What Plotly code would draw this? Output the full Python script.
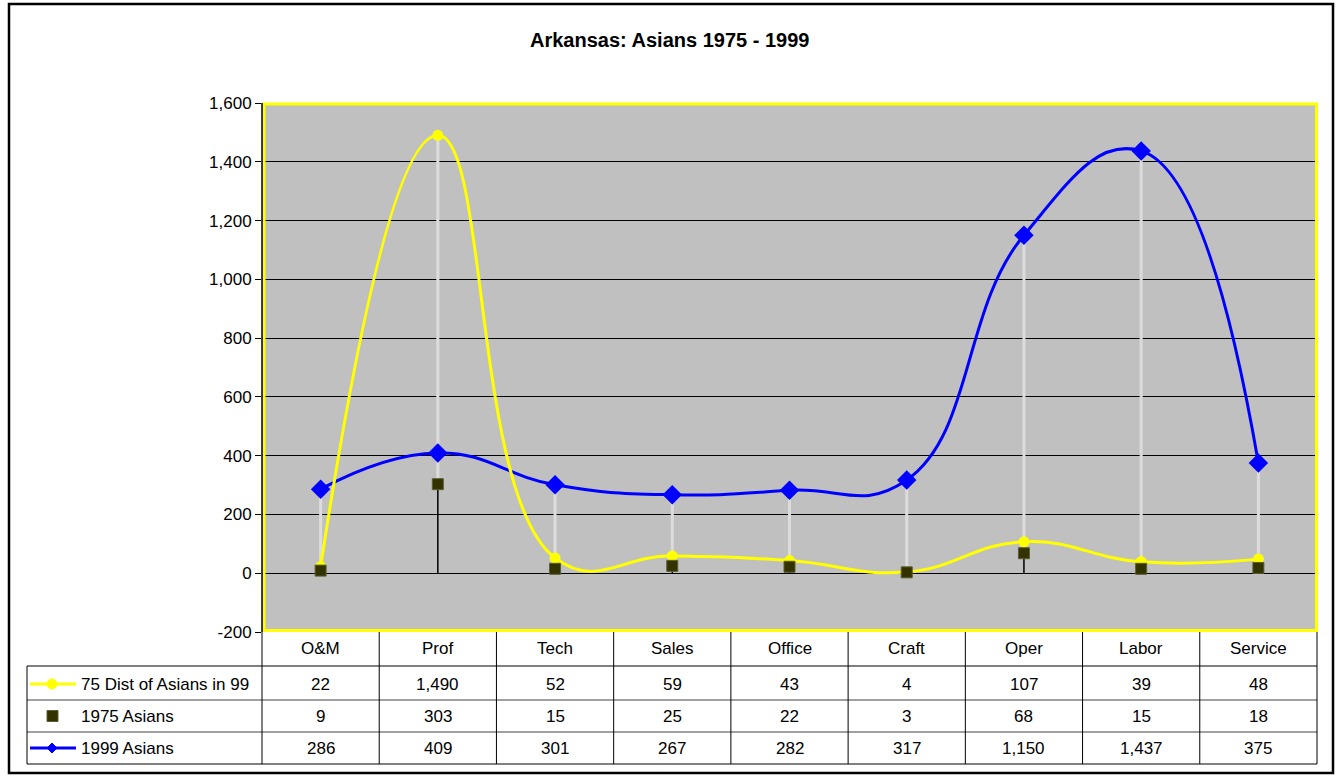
import plotly.graph_objects as go

categories = ["O&M", "Prof", "Tech", "Sales", "Office", "Craft", "Oper", "Labor", "Service"]
dist75_in_99 = [22, 1490, 52, 59, 43, 4, 107, 39, 48]
asians_1975 = [9, 303, 15, 25, 22, 3, 68, 15, 18]
asians_1999 = [286, 409, 301, 267, 282, 317, 1150, 1437, 375]
series_names = ["75 Dist of Asians in 99", "1975 Asians", "1999 Asians"]
y_ticks = [-200, 0, 200, 400, 600, 800, 1000, 1200, 1400, 1600]

W, H = 1338, 778
L, R, T, B = 262, 1317, 103, 632
FONT = "Liberation Sans, Arial, sans-serif"
YELLOW = "#FFFF00"
BLUE = "#0000FF"
OLIVE = "#333300"
TXT = 17


def px(x):
    return (x - L) / (R - L)


def py(y):
    return (B - y) / (B - T)


xs = list(range(len(categories)))

# high-low lines
hl_x, hl_y = [], []
for i in xs:
    vals = [dist75_in_99[i], asians_1975[i], asians_1999[i]]
    hl_x += [i, i, None]
    hl_y += [max(vals), min(vals), None]

# drop lines for 1975 series
dl_x, dl_y = [], []
for i in xs:
    dl_x += [i, i, None]
    dl_y += [asians_1975[i], 0, None]

fig = go.Figure()
fig.add_trace(go.Scatter(x=hl_x, y=hl_y, mode="lines", line=dict(color="#DCDCDC", width=3),
                         hoverinfo="skip", showlegend=False))
fig.add_trace(go.Scatter(x=dl_x, y=dl_y, mode="lines", line=dict(color="black", width=1.5),
                         hoverinfo="skip", showlegend=False))
fig.add_trace(go.Scatter(x=xs, y=asians_1999, name=series_names[2], mode="lines+markers",
                         line=dict(color=BLUE, width=3, shape="spline", smoothing=1.3),
                         marker=dict(symbol="diamond", size=15, color=BLUE), showlegend=False))
fig.add_trace(go.Scatter(x=xs, y=dist75_in_99, name=series_names[0], mode="lines+markers",
                         line=dict(color=YELLOW, width=3, shape="spline", smoothing=1.3),
                         marker=dict(symbol="circle", size=11, color=YELLOW), showlegend=False))
fig.add_trace(go.Scatter(x=xs, y=asians_1975, name=series_names[1], mode="markers",
                         marker=dict(symbol="square", size=11, color=OLIVE,
                                     line=dict(color="#5c5c33", width=1)), showlegend=False))

shapes = []
annotations = []

# outer border
shapes.append(dict(type="rect", xref="paper", yref="paper", x0=px(9), x1=px(1333), y0=py(773), y1=py(4),
                   line=dict(color="black", width=2.5), fillcolor="rgba(0,0,0,0)", layer="above"))
# plot area yellow border
shapes.append(dict(type="rect", xref="paper", yref="paper", x0=px(264), x1=px(1316.5), y0=py(630.5), y1=py(104),
                   line=dict(color=YELLOW, width=3), fillcolor="rgba(0,0,0,0)", layer="above"))
# y-axis black line
shapes.append(dict(type="line", xref="paper", yref="paper", x0=px(262), x1=px(262), y0=py(632), y1=py(103),
                   line=dict(color="black", width=1.5), layer="above"))

# table geometry
row_centers = [684, 716, 748]
header_center = 648
cell_w = (R - L) / len(categories)

shapes.append(dict(type="line", xref="paper", yref="paper", x0=px(27), x1=px(R), y0=py(666), y1=py(666),
                   line=dict(color="black", width=1)))
for yl in (700, 732):
    shapes.append(dict(type="line", xref="paper", yref="paper", x0=px(27), x1=px(R), y0=py(yl), y1=py(yl),
                       line=dict(color="#808080", width=1.5)))
shapes.append(dict(type="line", xref="paper", yref="paper", x0=px(27), x1=px(R), y0=py(764), y1=py(764),
                   line=dict(color="black", width=1)))
shapes.append(dict(type="line", xref="paper", yref="paper", x0=px(27), x1=px(27), y0=py(666), y1=py(764),
                   line=dict(color="black", width=1)))
for k in range(len(categories) + 1):
    xv = L + k * cell_w
    shapes.append(dict(type="line", xref="paper", yref="paper", x0=px(xv), x1=px(xv), y0=py(632), y1=py(764),
                       line=dict(color="black", width=1)))

rows = [dist75_in_99, asians_1975, asians_1999]
for i, c in enumerate(categories):
    annotations.append(dict(x=i, xref="x", y=py(header_center), yref="paper", text=c, showarrow=False,
                            font=dict(family=FONT, size=TXT, color="black"), xanchor="center", yanchor="middle"))
    for r, vals in enumerate(rows):
        annotations.append(dict(x=i, xref="x", y=py(row_centers[r]), yref="paper", text=f"{vals[i]:,}",
                                showarrow=False, font=dict(family=FONT, size=TXT, color="black"),
                                xanchor="center", yanchor="middle"))

for r, name in enumerate(series_names):
    annotations.append(dict(x=px(79), xref="paper", y=py(row_centers[r]), yref="paper", text=name,
                            showarrow=False, font=dict(family=FONT, size=TXT, color="black"),
                            xanchor="left", yanchor="middle"))
yc = row_centers[0]
shapes.append(dict(type="line", xref="paper", yref="paper", x0=px(30), x1=px(76), y0=py(yc), y1=py(yc),
                   line=dict(color=YELLOW, width=3)))
shapes.append(dict(type="circle", xref="paper", yref="paper", x0=px(47), x1=px(57), y0=py(yc + 5), y1=py(yc - 5),
                   line=dict(color=YELLOW, width=1), fillcolor=YELLOW))
yc = row_centers[1]
shapes.append(dict(type="rect", xref="paper", yref="paper", x0=px(47), x1=px(58), y0=py(yc + 5.5), y1=py(yc - 5.5),
                   line=dict(color="#5c5c33", width=1), fillcolor=OLIVE))
yc = row_centers[2]
shapes.append(dict(type="line", xref="paper", yref="paper", x0=px(30), x1=px(76), y0=py(yc), y1=py(yc),
                   line=dict(color=BLUE, width=3)))
shapes.append(dict(type="path", xref="paper", yref="paper",
                   path=f"M {px(52)},{py(yc-5)} L {px(57)},{py(yc)} L {px(52)},{py(yc+5)} L {px(47)},{py(yc)} Z",
                   line=dict(color=BLUE, width=1), fillcolor=BLUE))

annotations.append(dict(x=px(669), xref="paper", y=py(40), yref="paper", text="<b>Arkansas: Asians 1975 - 1999</b>",
                        showarrow=False, font=dict(family=FONT, size=20, color="black"),
                        xanchor="center", yanchor="middle"))

fig.update_layout(
    width=W, height=H,
    margin=dict(l=L, r=W - R, t=T, b=H - B, pad=0),
    paper_bgcolor="white", plot_bgcolor="#C0C0C0",
    shapes=shapes, annotations=annotations,
    showlegend=False,
    xaxis=dict(range=[-0.5, len(categories) - 0.5], showgrid=False, zeroline=False, showticklabels=False,
               ticks="", showline=False, fixedrange=True),
    yaxis=dict(range=[-200, 1600], tickvals=y_ticks, ticktext=[f"{v:,}" for v in y_ticks],
               showgrid=True, gridcolor="black", gridwidth=1, zeroline=True, zerolinecolor="black",
               zerolinewidth=1, ticks="outside", ticklen=6, tickcolor="black", tickwidth=1,
               tickfont=dict(family=FONT, size=TXT, color="black"), showline=False, fixedrange=True),
)

fig.write_html("out.html", config={"displayModeBar": False},
               post_script="document.body.style.margin='0px';document.body.style.overflow='hidden';")
